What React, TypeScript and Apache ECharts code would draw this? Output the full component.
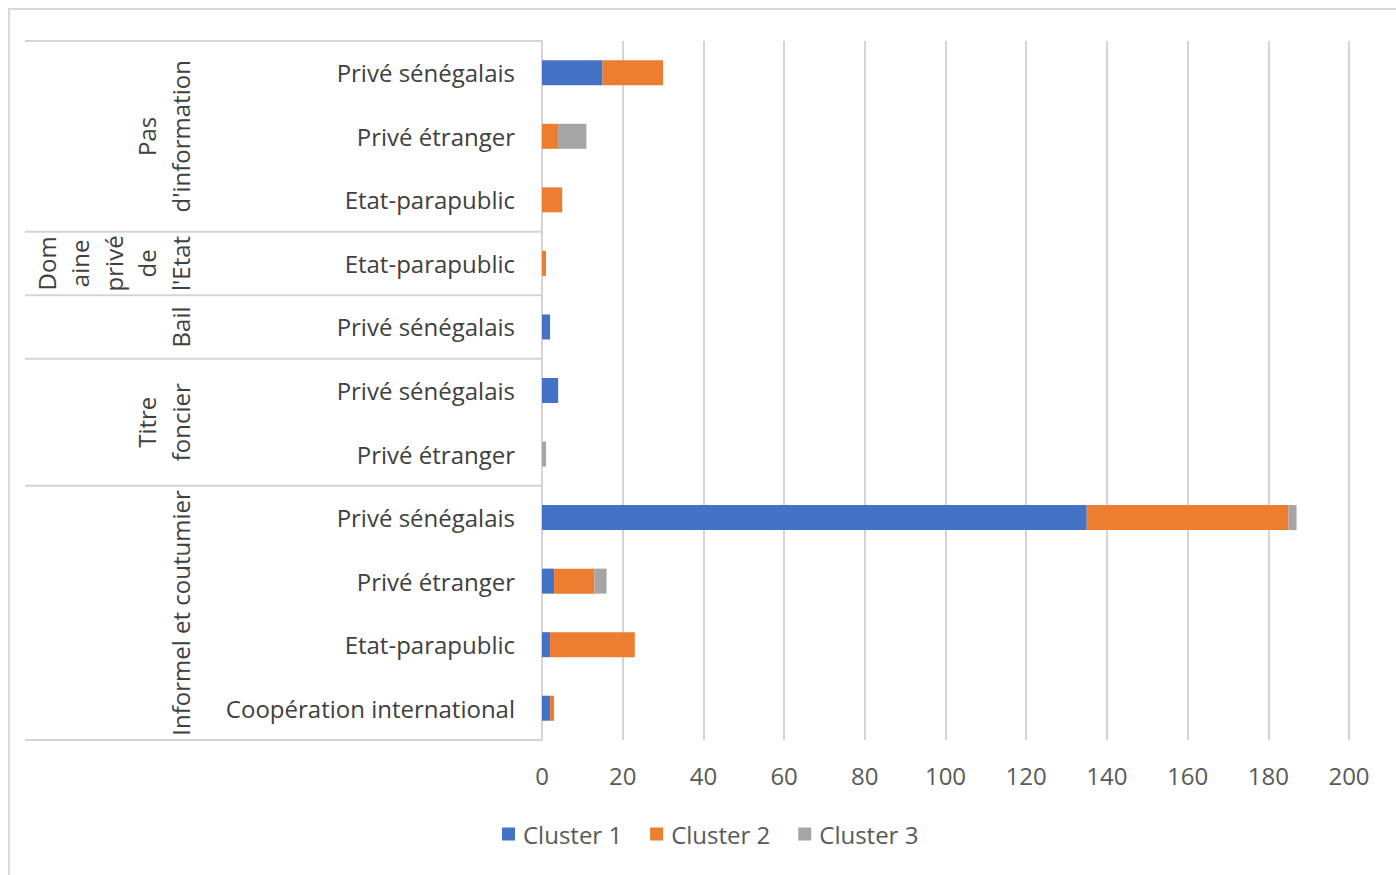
import React, { useEffect, useRef } from "react";
import * as echarts from "echarts";

// Leaf categories, top to bottom
const leafLabels = [
  "Privé sénégalais",
  "Privé étranger",
  "Etat-parapublic",
  "Etat-parapublic",
  "Privé sénégalais",
  "Privé sénégalais",
  "Privé étranger",
  "Privé sénégalais",
  "Privé étranger",
  "Etat-parapublic",
  "Coopération international",
];

// Outer categories (wrapped lines) and how many leaves each spans
const groupLines = [
  ["Pas", "d'information"],
  ["Dom", "aine", "privé", "de", "l'Etat"],
  ["Bail"],
  ["Titre", "foncier"],
  ["Informel et coutumier"],
];
const groupSizes = [3, 1, 1, 2, 4];

const seriesNames = ["Cluster 1", "Cluster 2", "Cluster 3"];
const cluster1 = [15, 0, 0, 0, 2, 4, 0, 135, 3, 2, 2];
const cluster2 = [15, 4, 5, 1, 0, 0, 0, 50, 10, 21, 1];
const cluster3 = [0, 7, 0, 0, 0, 0, 1, 2, 3, 0, 0];

const xTicks = [0, 20, 40, 60, 80, 100, 120, 140, 160, 180, 200];

const colors = ["#4472C4", "#ED7D31", "#A5A5A5"];
const FONT = "'Open Sans', 'Noto Sans', sans-serif";
const LINE = "#d4d4d4";

export default function App() {
  const ref = useRef<HTMLDivElement>(null);

  useEffect(() => {
    if (!ref.current) return;
    const chart = echarts.init(ref.current, undefined, { renderer: "svg" });
    const values = [cluster1, cluster2, cluster3];

    chart.setOption({
      animation: false,
      backgroundColor: "#ffffff",
      color: colors,
      grid: { left: 542, right: 47, top: 41, bottom: 135, containLabel: false },
      legend: {
        data: seriesNames,
        left: 497,
        top: 817,
        icon: "rect",
        itemWidth: 13,
        itemHeight: 13,
        itemGap: 28,
        textStyle: { fontSize: 24, fontFamily: FONT, color: "#595959", padding: [0, 0, 0, 3] },
      },
      xAxis: {
        type: "value",
        min: xTicks[0],
        max: xTicks[xTicks.length - 1],
        interval: 20,
        axisLine: { show: false },
        axisTick: { show: false },
        splitLine: { show: true, lineStyle: { color: LINE, width: 2 } },
        axisLabel: { fontSize: 24, fontFamily: FONT, color: "#595959", margin: 23 },
      },
      yAxis: {
        type: "category",
        inverse: true,
        data: leafLabels,
        axisLine: { show: true, lineStyle: { color: LINE, width: 2 } },
        axisTick: { show: false },
        splitLine: { show: false },
        axisLabel: { fontSize: 24, fontFamily: FONT, color: "#404040", margin: 27 },
      },
      series: seriesNames.map((name, i) => ({
        name,
        type: "bar",
        stack: "total",
        barWidth: 25,
        data: values[i],
      })),
    });

    // Outer category table: separators and rotated group labels
    const y0 = chart.convertToPixel({ yAxisIndex: 0 }, 0) as number;
    const y1 = chart.convertToPixel({ yAxisIndex: 0 }, 1) as number;
    const band = y1 - y0;
    const axisX = chart.convertToPixel({ xAxisIndex: 0 }, 0) as number;
    const boundaryY = (idx: number) => y0 - band / 2 + idx * band;
    const graphics: any[] = [
      {
        type: "rect",
        shape: { x: 9, y: 9, width: 1400, height: 900 },
        style: { fill: "none", stroke: "#d9d9d9", lineWidth: 2 },
        silent: true,
      },
      {
        type: "line",
        shape: { x1: 25, y1: boundaryY(0), x2: axisX, y2: boundaryY(0) },
        style: { stroke: LINE, lineWidth: 2 },
      },
    ];
    let start = 0;
    groupSizes.forEach((size, g) => {
      const end = start + size;
      graphics.push({
        type: "line",
        shape: { x1: 25, y1: boundaryY(end), x2: axisX, y2: boundaryY(end) },
        style: { stroke: LINE, lineWidth: 2 },
      });
      const cy = (boundaryY(start) + boundaryY(end)) / 2;
      const lines = groupLines[g];
      lines.forEach((t, k) => {
        graphics.push({
          type: "text",
          x: 180 - 33.5 * (lines.length - 1 - k),
          y: cy,
          rotation: Math.PI / 2,
          style: {
            text: t,
            fontSize: 24,
            fontFamily: FONT,
            fill: "#404040",
            align: "center",
            verticalAlign: "middle",
          },
        });
      });
      start = end;
    });
    chart.setOption({ graphic: graphics });

    return () => chart.dispose();
  }, []);

  return (
    <div
      ref={ref}
      style={{ position: "fixed", left: 0, top: 0, width: 1396, height: 875 }}
    />
  );
}
